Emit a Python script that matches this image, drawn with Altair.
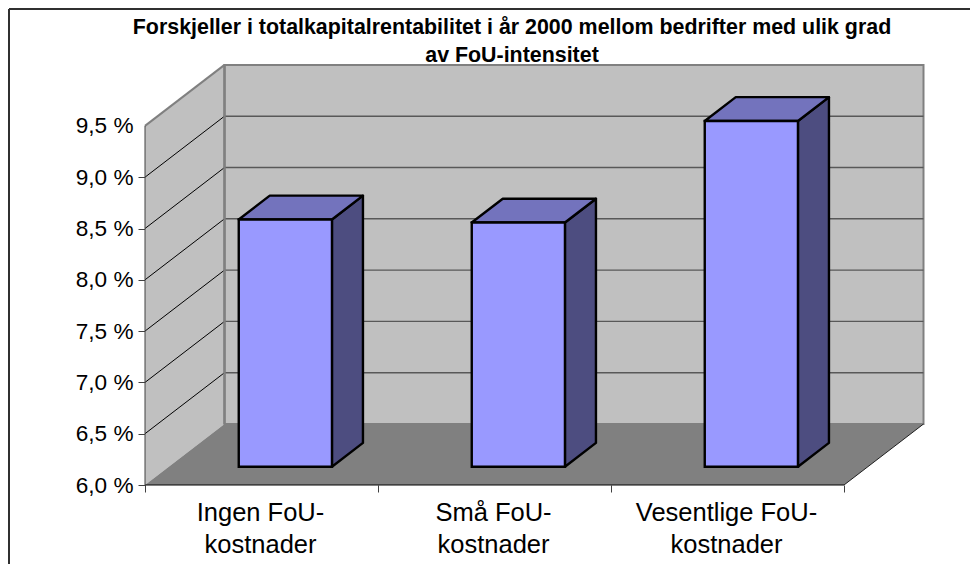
import altair as alt

categories = ["Ingen FoU-\nkostnader", "Små FoU-\nkostnader", "Vesentlige FoU-\nkostnader"]
values = [8.41, 8.38, 9.37]
y_ticks = [6.0, 6.5, 7.0, 7.5, 8.0, 8.5, 9.0, 9.5]
title_text = ("Forskjeller i totalkapitalrentabilitet i år 2000 mellom bedrifter med ulik grad\n"
              "av FoU-intensitet")

PW, PH = 779, 417
PAD = {"left": 137, "top": 60, "right": 46, "bottom": 79}
XMAX = PW / 233.0
YMAX = 6 + PH / 102.6
DX = 79.5 / 233.0   # depth of the 3D box in category units
DY = 61 / 102.6     # depth of the 3D box in percent units
N = len(categories)
T0, T1 = 0.30, 0.69
BW = 0.40
FONT = "Liberation Sans"

xs = alt.Scale(domain=[0, XMAX], nice=False, zero=False)
ys = alt.Scale(domain=[6, YMAX], nice=False, zero=False)
X = alt.X("x:Q", scale=xs)
Y = alt.Y("y:Q", scale=ys)


def df(rows):
    return alt.Data(values=rows)


# axes (ticks and labels)
y_axis = alt.Chart(df([{"x": 0, "y": v} for v in y_ticks])).mark_point(opacity=0).encode(
    x=alt.X("x:Q", scale=xs, axis=alt.Axis(
        values=list(range(N + 1)), title=None, domain=False, grid=False, labels=False,
        tickSize=7, tickColor="#404040", tickWidth=1,
    )),
    y=alt.Y("y:Q", scale=ys, axis=alt.Axis(
        values=y_ticks, title=None, domain=False, grid=False,
        tickSize=7, tickColor="#404040", tickWidth=1,
        tickOpacity={"condition": {"test": "datum.value == 9.5", "value": 0}, "value": 1},
        labelExpr="replace(format(datum.value, '.1f'), '.', ',') + ' %'",
        labelFont=FONT, labelFontSize=22.6, labelColor="#000000", labelPadding=5,
    )),
)

# walls and floor
side_wall = alt.Chart(df([
    {"x": 0, "y": 6, "y2": 9.5},
    {"x": DX, "y": 6 + DY, "y2": 9.5 + DY},
])).mark_area(color="#C0C0C0", interpolate="linear").encode(x=X, y=Y, y2="y2:Q")

back_wall = alt.Chart(df([{"x": DX, "x2": N + DX, "y": 6 + DY, "y2": 9.5 + DY}])).mark_rect(
    fill="#C0C0C0", stroke="#808080", strokeWidth=2
).encode(x=X, x2="x2:Q", y=Y, y2="y2:Q")

floor = alt.Chart(df([
    {"y": 6, "x": 0, "x2": N},
    {"y": 6 + DY, "x": DX, "x2": N + DX},
])).mark_area(color="#808080", orient="horizontal").encode(x=X, x2="x2:Q", y=Y)

# grid
inner = y_ticks[1:-1]
back_grid = alt.Chart(df([{"x": DX, "x2": N + DX, "y": v + DY} for v in inner])).mark_rule(
    color="#585858", strokeWidth=1.4
).encode(x=X, x2="x2:Q", y=Y)
side_rows = []
for v in inner:
    side_rows += [{"x": 0, "y": v, "k": v}, {"x": DX, "y": v + DY, "k": v}]
side_grid = alt.Chart(df(side_rows)).mark_line(color="#000000", strokeWidth=1).encode(
    x=X, y=Y, detail="k:Q")

# outline pieces
side_top = alt.Chart(df([{"x": 0, "y": 9.5}, {"x": DX, "y": 9.5 + DY}])).mark_line(
    color="#808080", strokeWidth=2).encode(x=X, y=Y)
corner = alt.Chart(df([{"x": DX, "y": 6 + DY, "y2": 9.5 + DY}])).mark_rule(
    color="#808080", strokeWidth=2.4).encode(x=X, y=Y, y2="y2:Q")
floor_edge = alt.Chart(df([{"x": N, "y": 6}, {"x": N + DX, "y": 6 + DY}])).mark_line(
    color="#202020", strokeWidth=1).encode(x=X, y=Y)
front_line = alt.Chart(df([{"x": 0, "x2": N, "y": 6}])).mark_rule(
    color="#000000", strokeWidth=1.2).encode(x=X, x2="x2:Q", y=Y)
y_line = alt.Chart(df([{"x": 0, "y": 6, "y2": 9.5}])).mark_rule(
    color="#404040", strokeWidth=1).encode(x=X, y=Y, y2="y2:Q")

# bars
front_rows, top_rows, side_rows2 = [], [], []
for i, v in enumerate(values):
    x0 = i + 0.5 - BW / 2
    x1 = i + 0.5 + BW / 2
    front_rows.append({"x": x0 + T0 * DX, "x2": x1 + T0 * DX, "y": 6 + T0 * DY, "y2": v + T0 * DY})
    top_rows += [
        {"k": i, "y": v + T0 * DY, "x": x0 + T0 * DX, "x2": x1 + T0 * DX},
        {"k": i, "y": v + T1 * DY, "x": x0 + T1 * DX, "x2": x1 + T1 * DX},
    ]
    side_rows2 += [
        {"k": i, "x": x1 + T0 * DX, "y": 6 + T0 * DY, "y2": v + T0 * DY},
        {"k": i, "x": x1 + T1 * DX, "y": 6 + T1 * DY, "y2": v + T1 * DY},
    ]
bar_side = alt.Chart(df(side_rows2)).mark_area(
    color="#4D4D80", stroke="#000000", strokeWidth=2.4, strokeJoin="round"
).encode(x=X, y=Y, y2="y2:Q", detail="k:Q")
bar_top = alt.Chart(df(top_rows)).mark_area(
    color="#7373BD", stroke="#000000", strokeWidth=2.4, orient="horizontal", strokeJoin="round"
).encode(x=X, x2="x2:Q", y=Y, detail="k:Q")
bar_front = alt.Chart(df(front_rows)).mark_rect(
    fill="#9999FF", stroke="#000000", strokeWidth=2.4
).encode(x=X, x2="x2:Q", y=Y, y2="y2:Q")

cat_labels = alt.Chart(df([{"x": i + 0.5, "t": c} for i, c in enumerate(categories)])).mark_text(
    font=FONT, fontSize=25.5, lineHeight=32, baseline="top", align="center", color="#000000",
    lineBreak="\n", dx=-1,
).encode(x=X, y=alt.value(PH + 16), text="t:N")

title = alt.Chart(df([{"t": title_text}])).mark_text(
    font=FONT, fontSize=21.4, fontWeight="bold", lineHeight=28, baseline="alphabetic",
    align="center", color="#000000", lineBreak="\n",
).encode(x=alt.value(367), y=alt.value(-34), text="t:N")

# outer frame (only top and left are visible in the picture)
frame_top = alt.Chart(df([{"k": 1}])).mark_rule(color="#303030", strokeWidth=2).encode(
    x=alt.value(-136), x2=alt.value(PW + PAD["right"]), y=alt.value(-59))
frame_left = alt.Chart(df([{"k": 1}])).mark_rule(color="#303030", strokeWidth=2).encode(
    x=alt.value(-136), y=alt.value(-59), y2=alt.value(PH + PAD["bottom"]))

chart = alt.layer(
    y_axis, side_wall, back_wall, floor, back_grid, side_grid, side_top, corner,
    floor_edge, front_line, y_line,
    bar_side, bar_top, bar_front, cat_labels, title, frame_top, frame_left,
).properties(
    width=PW, height=PH,
    padding=PAD,
    autosize=alt.AutoSizeParams(type="none"),
).configure_view(stroke=None)

chart.save("out.html", embed_options={"renderer": "svg", "actions": False})
